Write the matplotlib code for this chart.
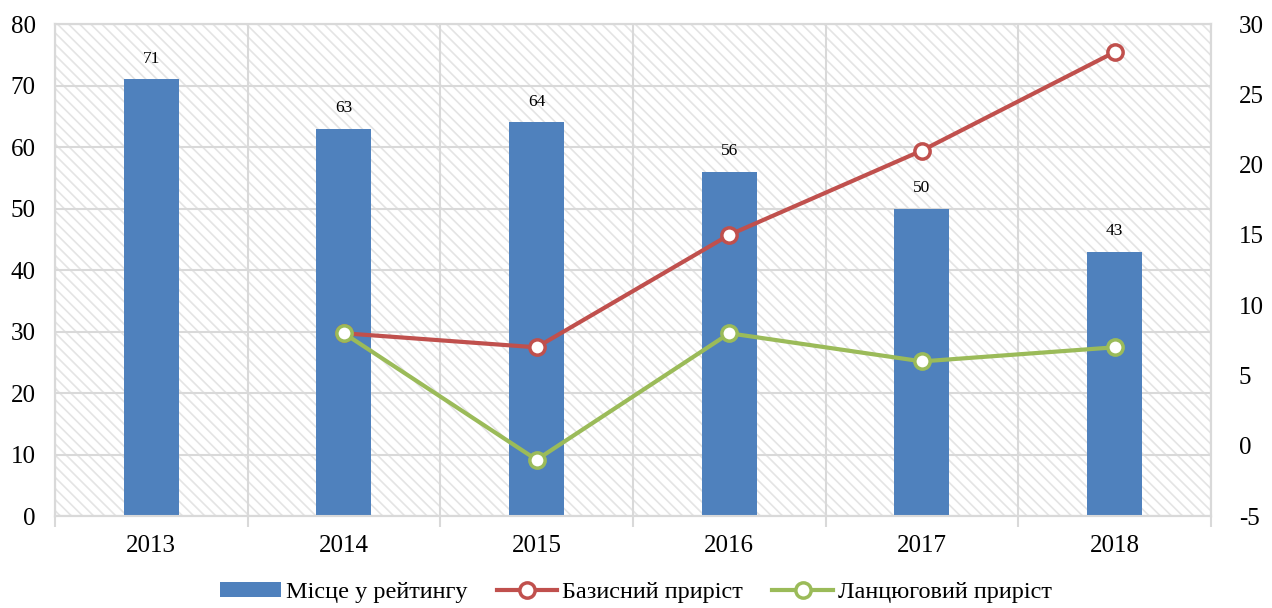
import numpy as np
import matplotlib
matplotlib.use('Agg')
import matplotlib.pyplot as plt
from matplotlib.patches import Rectangle

# Data
years = ['2013', '2014', '2015', '2016', '2017', '2018']
rating_place = [71, 63, 64, 56, 50, 43]
base_growth = [None, 8, 7, 15, 21, 28]
chain_growth = [None, 8, -1, 8, 6, 7]

BAR_COLOR = '#4f81bd'
RED = '#c0504d'
GREEN = '#9bbb59'
GRID = '#d9d9d9'

plt.rcParams['font.family'] = ['Liberation Serif', 'DejaVu Serif']
plt.rcParams['hatch.linewidth'] = 1.2
plt.rcParams['axes.unicode_minus'] = False

fig = plt.figure(figsize=(12.72, 6.08), dpi=100)
ax = fig.add_axes([0.0432, 0.1513, 0.9088, 0.8092])
ax2 = ax.twinx()

x = np.arange(len(years))

# hatched background
bg = Rectangle((0, 0), 1, 1, transform=ax.transAxes, facecolor='white',
               edgecolor='#e4e4e4', hatch='\\\\\\', linewidth=0, zorder=0)
ax.add_patch(bg)

bars = ax.bar(x, rating_place, width=0.285, color=BAR_COLOR, zorder=3,
              label='Місце у рейтингу')
for xi, v in zip(x, rating_place):
    ax.text(xi, v + 2.0, str(v), ha='center', va='bottom', fontsize=12.5)

ax.set_xlim(-0.5, len(years) - 0.5)
ax.set_ylim(0, 80)
ax.set_yticks(range(0, 81, 10))
ax.set_xticks(x)
ax.set_xticklabels(years)
ax.set_xticks(np.arange(-0.5, len(years)), minor=True)
ax.tick_params(axis='x', which='major', length=0, labelsize=18, pad=14)
ax.tick_params(axis='x', which='minor', length=8, color=GRID, width=1.5)
ax.tick_params(axis='y', length=0, labelsize=18, pad=14)
ax.grid(axis='y', color=GRID, linewidth=1.5, zorder=1)
ax.grid(axis='x', which='minor', color=GRID, linewidth=1.5, zorder=1)
ax.set_axisbelow(True)

xs = x[1:]
l1, = ax2.plot(xs, base_growth[1:], color=RED, linewidth=3, marker='o',
               markersize=11, markerfacecolor='white', markeredgewidth=2.5,
               markeredgecolor=RED, zorder=4, label='Базисний приріст')
l2, = ax2.plot(xs, chain_growth[1:], color=GREEN, linewidth=3, marker='o',
               markersize=11, markerfacecolor='white', markeredgewidth=2.5,
               markeredgecolor=GREEN, zorder=5, label='Ланцюговий приріст')
ax2.set_ylim(-5, 30)
ax2.set_yticks(range(-5, 31, 5))
ax2.tick_params(axis='y', length=0, labelsize=18, pad=20)

for a in (ax, ax2):
    for s in a.spines.values():
        s.set_color(GRID)
        s.set_linewidth(1.5)

fig.legend(handles=[bars, l1, l2], loc='lower center', ncol=3,
           bbox_to_anchor=(0.5, 0.0), frameon=False, fontsize=17.5,
           handlelength=2.5, handleheight=0.55, columnspacing=1.2,
           handletextpad=0.2, borderpad=0.1, borderaxespad=0.1)

fig.savefig('out.png', dpi=100)
